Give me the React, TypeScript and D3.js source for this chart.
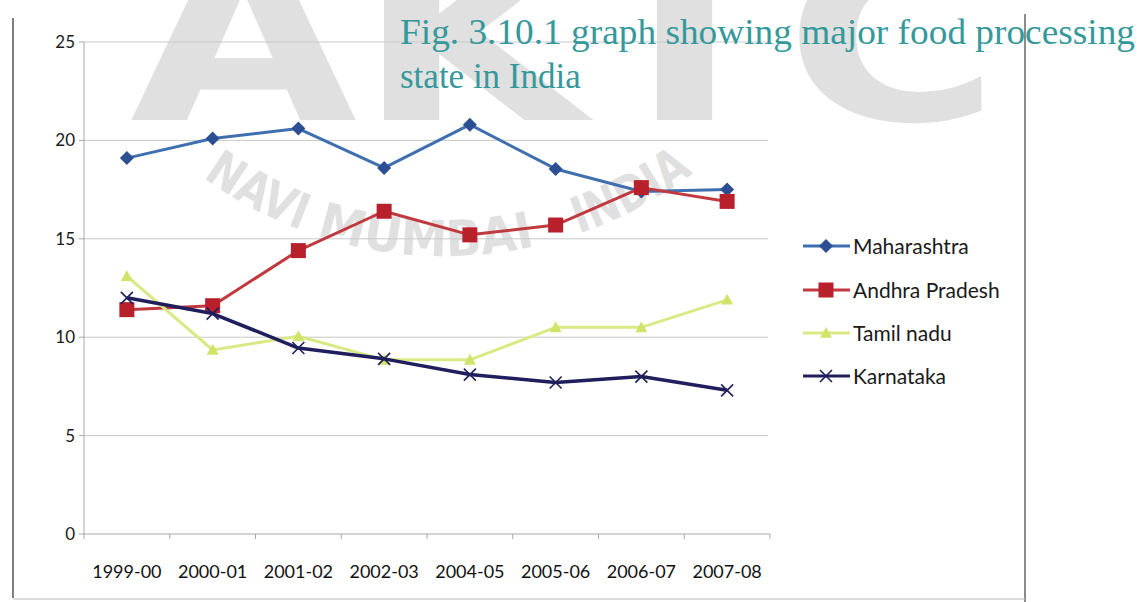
import React from "react";
import * as d3 from "d3";

const categories = ["1999-00", "2000-01", "2001-02", "2002-03", "2004-05", "2005-06", "2006-07", "2007-08"];
const maharashtra = [19.1, 20.1, 20.6, 18.6, 20.8, 18.55, 17.4, 17.5];
const andhraPradesh = [11.4, 11.6, 14.4, 16.4, 15.2, 15.7, 17.6, 16.9];
const tamilNadu = [13.1, 9.35, 10.05, 8.85, 8.85, 10.5, 10.5, 11.9];
const karnataka = [12.0, 11.2, 9.45, 8.9, 8.1, 7.7, 8.0, 7.3];
const yTicks = [0, 5, 10, 15, 20, 25];
const seriesNames = ["Maharashtra", "Andhra Pradesh", "Tamil nadu", "Karnataka"];
const titleLines = ["Fig. 3.10.1 graph showing major food processing", "state in India"];
const watermarkWords = ["NAVI", "MUMBAI", "INDIA"];

const W = 1147;
const H = 602;

type Series = { name: string; values: number[]; color: string; marker: string; mcolor: string; width: number };

const series: Series[] = [
  { name: seriesNames[0], values: maharashtra, color: "#3f6faf", marker: "diamond", mcolor: "#2b4f92", width: 3 },
  { name: seriesNames[1], values: andhraPradesh, color: "#c0393f", marker: "square", mcolor: "#b8202c", width: 3 },
  { name: seriesNames[2], values: tamilNadu, color: "#dbe985", marker: "triangle", mcolor: "#d2e36a", width: 3 },
  { name: seriesNames[3], values: karnataka, color: "#1e1f5c", marker: "x", mcolor: "#1e1f5c", width: 3.5 },
];

function Marker({ kind, x, y, color }: { kind: string; x: number; y: number; color: string }) {
  if (kind === "diamond") {
    const s = 7;
    return <path d={`M${x},${y - s}L${x + s},${y}L${x},${y + s}L${x - s},${y}Z`} fill={color} />;
  }
  if (kind === "square") {
    const s = 7.5;
    return <rect x={x - s} y={y - s} width={2 * s} height={2 * s} fill={color} />;
  }
  if (kind === "triangle") {
    const s = 6;
    return <path d={`M${x},${y - s}L${x + s},${y + s * 0.8}L${x - s},${y + s * 0.8}Z`} fill={color} />;
  }
  const s = 6;
  return (
    <path
      d={`M${x - s},${y - s}L${x + s},${y + s}M${x + s},${y - s}L${x - s},${y + s}`}
      stroke={color}
      strokeWidth={1.6}
      fill="none"
    />
  );
}

export default function App() {
  const x = d3.scaleBand<string>().domain(categories).range([84, 770]).padding(0);
  const cx = (c: string) => (x(c) as number) + x.bandwidth() / 2;
  const y = d3.scaleLinear().domain([0, 25]).range([534, 42]);
  const line = d3
    .line<number>()
    .x((_, i) => cx(categories[i]))
    .y((d) => y(d));

  const boundaries = [...categories.map((c) => x(c) as number), 770];
  const legendY = [246, 290, 333, 376];

  // watermark arc (lower arc, left to right)
  const arcCx = 445;
  const arcCy = -156;
  const arcR = 412;
  const a0 = (126 * Math.PI) / 180;
  const a1 = (48 * Math.PI) / 180;
  const arcPath = `M${arcCx + arcR * Math.cos(a0)},${arcCy + arcR * Math.sin(a0)} A${arcR},${arcR} 0 0 0 ${arcCx + arcR * Math.cos(a1)},${arcCy + arcR * Math.sin(a1)}`;
  const wordOffsets = [0, 128, 395];
  const wordLengths = [112, 222, 130];

  return (
    <svg width={W} height={H} style={{ position: "absolute", left: 0, top: 0, background: "#fff" }}>
      <rect x={0} y={0} width={W} height={H} fill="#fff" />
      {/* watermark */}
      <g opacity={0.26} fill="#8a8a8a">
        <text
          x={130}
          y={120}
          fontFamily="DejaVu Sans"
          fontWeight="bold"
          fontSize={230}
          textLength={870}
          lengthAdjust="spacingAndGlyphs"
        >
          AKTC
        </text>
        <defs>
          <path id="wmArc" d={arcPath} />
        </defs>
        {watermarkWords.map((w, i) => (
          <text key={w} fontFamily="DejaVu Sans Condensed, DejaVu Sans" fontWeight="bold" fontSize={50}>
            <textPath href="#wmArc" startOffset={wordOffsets[i]} textLength={wordLengths[i]} lengthAdjust="spacingAndGlyphs">
              {w}
            </textPath>
          </text>
        ))}
      </g>

      {/* frame */}
      <line x1={13} y1={18} x2={13} y2={598} stroke="#555" strokeWidth={1.5} />
      <line x1={1025} y1={14} x2={1025} y2={602} stroke="#666" strokeWidth={1.5} />
      <line x1={13} y1={599} x2={1025} y2={599} stroke="#bbb" strokeWidth={1} />

      {/* gridlines */}
      {yTicks.slice(1).map((t) => (
        <line key={t} x1={84} x2={768} y1={y(t)} y2={y(t)} stroke="#c9c9c9" strokeWidth={1} />
      ))}
      {/* axes */}
      <line x1={84} x2={84} y1={42} y2={534} stroke="#a8a8a8" strokeWidth={1} />
      <line x1={84} x2={770} y1={534} y2={534} stroke="#a8a8a8" strokeWidth={1} />
      {yTicks.map((t) => (
        <g key={t}>
          <line x1={79} x2={84} y1={y(t)} y2={y(t)} stroke="#a8a8a8" />
          <text x={75} y={y(t)} dy="0.35em" textAnchor="end" fontFamily="Lato" fontSize={17} fill="#1a1a1a">
            {t}
          </text>
        </g>
      ))}
      {boundaries.map((b, i) => (
        <line key={i} x1={b} x2={b} y1={534} y2={539} stroke="#a8a8a8" />
      ))}
      {categories.map((c) => (
        <text key={c} x={cx(c)} y={578} textAnchor="middle" fontFamily="Lato" fontSize={18} fill="#111">
          {c}
        </text>
      ))}

      {/* series */}
      {series.map((s) => (
        <g key={s.name}>
          <path d={line(s.values) || ""} fill="none" stroke={s.color} strokeWidth={s.width} strokeLinejoin="round" />
          {s.values.map((v, i) => (
            <Marker key={i} kind={s.marker} x={cx(categories[i])} y={y(v)} color={s.mcolor} />
          ))}
        </g>
      ))}

      {/* legend */}
      {series.map((s, i) => (
        <g key={s.name}>
          <line x1={803} x2={850} y1={legendY[i]} y2={legendY[i]} stroke={s.color} strokeWidth={3} />
          <Marker kind={s.marker} x={826} y={legendY[i]} color={s.mcolor} />
          <text x={853} y={legendY[i]} dy="0.36em" fontFamily="Lato" fontSize={21} fill="#1a1a1a">
            {s.name}
          </text>
        </g>
      ))}

      {/* title */}
      <text x={400} y={44} fontFamily="Liberation Serif" fontSize={35} fill="#35999c" textLength={735} lengthAdjust="spacingAndGlyphs">
        {titleLines[0]}
      </text>
      <text x={400} y={88} fontFamily="Liberation Serif" fontSize={35} fill="#35999c">
        {titleLines[1]}
      </text>
    </svg>
  );
}
